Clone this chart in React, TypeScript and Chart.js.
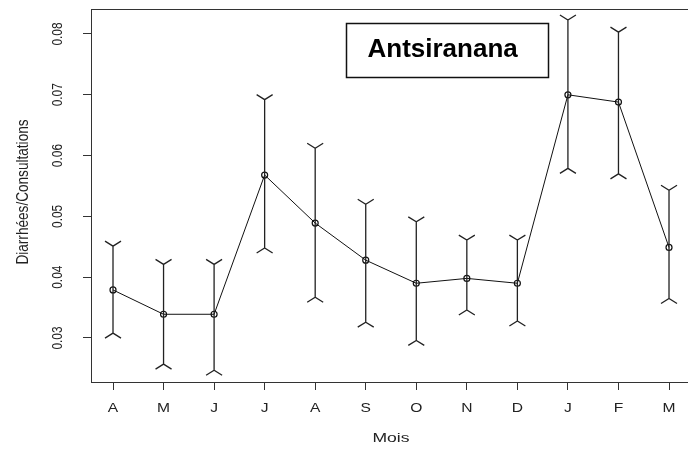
import React, { useEffect, useRef } from 'react';
import { Chart, registerables } from 'chart.js';

Chart.register(...registerables);

const monthLabels = ['A', 'M', 'J', 'J', 'A', 'S', 'O', 'N', 'D', 'J', 'F', 'M'];
const monthIndex = [1, 2, 3, 4, 5, 6, 7, 8, 9, 10, 11, 12];
const ratioValues = [0.0379, 0.0339, 0.0339, 0.0568, 0.0489, 0.0428, 0.039, 0.0398, 0.039, 0.07, 0.0688, 0.0449];
const upperValues = [0.0451, 0.0421, 0.0421, 0.0692, 0.0612, 0.052, 0.0491, 0.0461, 0.0461, 0.0823, 0.0803, 0.0543];
const lowerValues = [0.0308, 0.0257, 0.0247, 0.0448, 0.0367, 0.0326, 0.0296, 0.0346, 0.0328, 0.0579, 0.057, 0.0365];
const yTickValues = [0.03, 0.04, 0.05, 0.06, 0.07, 0.08];
const yTickLabels = ['0.03', '0.04', '0.05', '0.06', '0.07', '0.08'];
const xTitle = 'Mois';
const yTitle = 'Diarrhées/Consultations';
const annotationText = 'Antsiranana';
// annotation box in data coordinates: [xLeft, xRight, yTop, yBottom]
const annotationBox = [5.6, 9.6, 0.0818, 0.0729];

const FONT = '"Liberation Sans", Arial, sans-serif';

function drawText(
  ctx: CanvasRenderingContext2D,
  text: string,
  x: number,
  y: number,
  font: string,
  sx: number,
  rot: number,
  color: string
) {
  ctx.save();
  ctx.translate(x, y);
  ctx.rotate(rot);
  ctx.scale(sx, 1);
  ctx.font = font;
  ctx.fillStyle = color;
  ctx.textAlign = 'center';
  ctx.textBaseline = 'middle';
  ctx.fillText(text, 0, 0);
  ctx.restore();
}

export default function App() {
  const ref = useRef<HTMLCanvasElement>(null);

  useEffect(() => {
    const canvas = ref.current;
    if (!canvas) return;

    const rPlot = {
      id: 'rPlot',
      afterDatasetsDraw(chart: any) {
        const ctx: CanvasRenderingContext2D = chart.ctx;
        const xs = chart.scales.x;
        const ys = chart.scales.y;
        ctx.save();
        ctx.strokeStyle = '#222';
        ctx.lineWidth = 1.3;
        monthIndex.forEach((m, i) => {
          const px = xs.getPixelForValue(m);
          const pt = ys.getPixelForValue(upperValues[i]);
          const pb = ys.getPixelForValue(lowerValues[i]);
          ctx.beginPath();
          ctx.moveTo(px, pt);
          ctx.lineTo(px, pb);
          // top cap (Y shape)
          ctx.moveTo(px - 8, pt - 5);
          ctx.lineTo(px, pt);
          ctx.lineTo(px + 8, pt - 5);
          // bottom cap
          ctx.moveTo(px - 8, pb + 5);
          ctx.lineTo(px, pb);
          ctx.lineTo(px + 8, pb + 5);
          ctx.stroke();
        });
        ctx.restore();
      },
      afterDraw(chart: any) {
        const ctx: CanvasRenderingContext2D = chart.ctx;
        const xs = chart.scales.x;
        const ys = chart.scales.y;
        const a = chart.chartArea;
        ctx.save();
        // plot box
        ctx.strokeStyle = '#333';
        ctx.lineWidth = 1;
        ctx.strokeRect(Math.round(a.left) + 0.5, Math.round(a.top) + 0.5, a.right - a.left, a.bottom - a.top);
        ctx.restore();

        // y tick labels
        yTickValues.forEach((v, i) => {
          const py = ys.getPixelForValue(v);
          drawText(ctx, yTickLabels[i], a.left - 33, py, `14px ${FONT}`, 0.85, -Math.PI / 2, '#222');
        });
        // x tick labels
        monthIndex.forEach((m, i) => {
          const px = xs.getPixelForValue(m);
          drawText(ctx, monthLabels[i], px, a.bottom + 26, `13px ${FONT}`, 1.2, 0, '#222');
        });
        // axis titles
        drawText(ctx, xTitle, (a.left + a.right) / 2, a.bottom + 56, `13px ${FONT}`, 1.35, 0, '#222');
        drawText(ctx, yTitle, 24, 192, `16px ${FONT}`, 0.85, -Math.PI / 2, '#222');

        // annotation box
        const bx0 = xs.getPixelForValue(annotationBox[0]);
        const bx1 = xs.getPixelForValue(annotationBox[1]);
        const by0 = ys.getPixelForValue(annotationBox[2]);
        const by1 = ys.getPixelForValue(annotationBox[3]);
        ctx.save();
        ctx.fillStyle = '#fff';
        ctx.fillRect(bx0, by0, bx1 - bx0, by1 - by0);
        ctx.strokeStyle = '#111';
        ctx.lineWidth = 1.5;
        ctx.strokeRect(Math.round(bx0) + 0.5, Math.round(by0) + 0.5, Math.round(bx1 - bx0), Math.round(by1 - by0));
        ctx.restore();
        drawText(ctx, annotationText, (bx0 + bx1) / 2 - 4, (by0 + by1) / 2, `bold 26px ${FONT}`, 1, 0, '#000');
      },
    };

    const chart = new Chart(canvas, {
      type: 'line',
      data: {
        datasets: [
          {
            data: monthIndex.map((x, i) => ({ x, y: ratioValues[i] })),
            borderColor: '#111',
            borderWidth: 1,
            pointRadius: 3,
            pointBorderWidth: 1.2,
            pointBackgroundColor: 'rgba(0,0,0,0)',
            pointBorderColor: '#111',
            tension: 0,
            fill: false,
          },
        ],
      },
      options: {
        responsive: false,
        animation: false,
        devicePixelRatio: 1,
        layout: { padding: { top: 9, right: 9, left: 0, bottom: 0 } },
        plugins: { legend: { display: false }, tooltip: { enabled: false } },
        scales: {
          x: {
            type: 'linear',
            min: 0.5647,
            max: 12.435,
            afterBuildTicks: (s: any) => {
              s.ticks = monthIndex.map((v) => ({ value: v }));
            },
            afterFit: (s: any) => {
              s.height = 71;
            },
            grid: { drawOnChartArea: false, drawTicks: true, tickLength: 8, color: '#333', lineWidth: 1 },
            border: { display: false },
            ticks: { display: false },
          },
          y: {
            type: 'linear',
            min: 0.02276,
            max: 0.08411,
            afterBuildTicks: (s: any) => {
              s.ticks = yTickValues.map((v) => ({ value: v }));
            },
            afterFit: (s: any) => {
              s.width = 91;
            },
            grid: { drawOnChartArea: false, drawTicks: true, tickLength: 8, color: '#333', lineWidth: 1 },
            border: { display: false },
            ticks: { display: false },
          },
        },
      },
      plugins: [rPlot],
    });

    return () => chart.destroy();
  }, []);

  return (
    <div
      style={{
        position: 'fixed',
        left: 0,
        top: 0,
        width: 688,
        height: 453,
        overflow: 'hidden',
        background: '#fff',
      }}
    >
      <canvas ref={ref} width={700} height={453} style={{ display: 'block', width: 700, height: 453 }} />
    </div>
  );
}
